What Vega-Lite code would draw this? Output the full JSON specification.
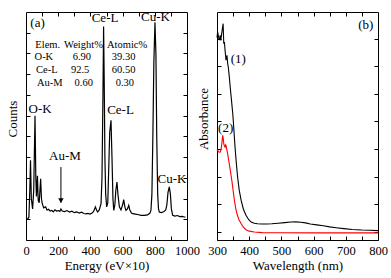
{
  "$schema": "https://vega.github.io/schema/vega-lite/v6.json",
  "padding": {"left": 6, "top": 10, "right": 0, "bottom": 0},
  "spacing": -3,
  "datasets": {
    "eds": [
      {"E": 8, "C": 10}, {"E": 18, "C": 11}, {"E": 24, "C": 25}, {"E": 28, "C": 38.5}, {"E": 33, "C": 20},
      {"E": 41, "C": 15}, {"E": 48, "C": 24}, {"E": 56, "C": 60}, {"E": 61, "C": 30}, {"E": 65, "C": 21},
      {"E": 71, "C": 31}, {"E": 76, "C": 19}, {"E": 82, "C": 18}, {"E": 91, "C": 29.5}, {"E": 96, "C": 20},
      {"E": 101, "C": 17.5}, {"E": 110, "C": 15.5}, {"E": 122, "C": 16}, {"E": 130, "C": 14.5}, {"E": 140, "C": 14.8},
      {"E": 150, "C": 14.0}, {"E": 160, "C": 14.3}, {"E": 170, "C": 13.6}, {"E": 180, "C": 14.6}, {"E": 190, "C": 14.0},
      {"E": 200, "C": 14.2}, {"E": 210, "C": 13.8}, {"E": 217, "C": 15.0}, {"E": 225, "C": 14.0}, {"E": 240, "C": 13.7},
      {"E": 255, "C": 14.2}, {"E": 270, "C": 13.5}, {"E": 285, "C": 13.9}, {"E": 300, "C": 13.2}, {"E": 315, "C": 13.6},
      {"E": 330, "C": 13.0}, {"E": 345, "C": 13.4}, {"E": 360, "C": 12.8}, {"E": 373, "C": 12.6}, {"E": 385, "C": 12.8},
      {"E": 398, "C": 12.5}, {"E": 410, "C": 13.0}, {"E": 420, "C": 13.8}, {"E": 431, "C": 16.0}, {"E": 438, "C": 14.5},
      {"E": 445, "C": 13.5}, {"E": 455, "C": 14.5}, {"E": 466, "C": 17.5}, {"E": 472, "C": 30}, {"E": 478, "C": 70},
      {"E": 482, "C": 103}, {"E": 486, "C": 75}, {"E": 490, "C": 40}, {"E": 495, "C": 22}, {"E": 501, "C": 16},
      {"E": 508, "C": 18}, {"E": 514, "C": 35}, {"E": 520, "C": 52}, {"E": 528, "C": 57.8}, {"E": 534, "C": 40},
      {"E": 540, "C": 20}, {"E": 545, "C": 14.3}, {"E": 552, "C": 17}, {"E": 558, "C": 24}, {"E": 565, "C": 28},
      {"E": 571, "C": 22}, {"E": 580, "C": 16}, {"E": 590, "C": 14.5}, {"E": 600, "C": 17}, {"E": 607, "C": 19.5},
      {"E": 614, "C": 16}, {"E": 621, "C": 14.3}, {"E": 630, "C": 15}, {"E": 638, "C": 16.7}, {"E": 645, "C": 14.5},
      {"E": 655, "C": 13}, {"E": 663, "C": 12.7}, {"E": 680, "C": 12.5}, {"E": 700, "C": 12.2}, {"E": 714, "C": 11.9},
      {"E": 735, "C": 11.9}, {"E": 755, "C": 12.1}, {"E": 770, "C": 13.0}, {"E": 776, "C": 14.3}, {"E": 782, "C": 22},
      {"E": 788, "C": 50}, {"E": 794, "C": 85}, {"E": 801, "C": 105}, {"E": 807, "C": 90}, {"E": 812, "C": 50},
      {"E": 818, "C": 22}, {"E": 823, "C": 15}, {"E": 828, "C": 13.5}, {"E": 840, "C": 13.2}, {"E": 855, "C": 13.6},
      {"E": 868, "C": 14.5}, {"E": 875, "C": 17}, {"E": 882, "C": 23}, {"E": 890, "C": 25.6}, {"E": 897, "C": 22},
      {"E": 903, "C": 15}, {"E": 911, "C": 11.9}, {"E": 925, "C": 11.5}, {"E": 940, "C": 11.8}, {"E": 955, "C": 11.3},
      {"E": 970, "C": 11.4}, {"E": 983, "C": 11.1}, {"E": 990, "C": 11.0}
    ],
    "labelsA": [
      {"text": "(a)", "E": 72, "C": 104.5},
      {"text": "O-K", "E": 88, "C": 63.2},
      {"text": "Ce-L", "E": 491, "C": 107.1},
      {"text": "Cu-K", "E": 804, "C": 107.6},
      {"text": "Ce-L", "E": 587, "C": 62.7},
      {"text": "Au-M", "E": 242, "C": 40.5},
      {"text": "Cu-K", "E": 907, "C": 29.4}
    ],
    "table": [
      {"text": "Elem.", "E": 135, "C": 94.2},
      {"text": "Weight%", "E": 357, "C": 94.2},
      {"text": "Atomic%", "E": 628, "C": 94.2},
      {"text": "O-K", "E": 111, "C": 88.3},
      {"text": "6.90", "E": 347, "C": 88.3},
      {"text": "39.30", "E": 606, "C": 88.3},
      {"text": "Ce-L", "E": 129, "C": 81.9},
      {"text": "92.5", "E": 336, "C": 81.9},
      {"text": "60.50", "E": 606, "C": 81.9},
      {"text": "Au-M", "E": 148, "C": 75.8},
      {"text": "0.60", "E": 359, "C": 75.8},
      {"text": "0.30", "E": 614, "C": 75.8}
    ],
    "arrow": [{"E": 217, "C": 35.2, "C2": 18}],
    "arrowhead": [{"E": 217, "C": 19}],
    "uv": [
      {"wl": 300, "A": 7.1, "s": "(1)"}, {"wl": 302, "A": 7.3, "s": "(1)"}, {"wl": 305, "A": 7.1, "s": "(1)"},
      {"wl": 307, "A": 7.01, "s": "(1)"}, {"wl": 310, "A": 7.18, "s": "(1)"}, {"wl": 312, "A": 7.0, "s": "(1)"},
      {"wl": 314, "A": 7.2, "s": "(1)"}, {"wl": 316, "A": 7.36, "s": "(1)"}, {"wl": 319, "A": 7.59, "s": "(1)"},
      {"wl": 321, "A": 6.89, "s": "(1)"}, {"wl": 323, "A": 6.95, "s": "(1)"}, {"wl": 325, "A": 6.66, "s": "(1)"},
      {"wl": 328, "A": 6.31, "s": "(1)"}, {"wl": 331, "A": 6.48, "s": "(1)"}, {"wl": 333, "A": 6.2, "s": "(1)"},
      {"wl": 335, "A": 6.07, "s": "(1)"}, {"wl": 338, "A": 5.75, "s": "(1)"}, {"wl": 341, "A": 5.37, "s": "(1)"},
      {"wl": 345, "A": 4.9, "s": "(1)"}, {"wl": 349, "A": 4.43, "s": "(1)"}, {"wl": 352, "A": 3.95, "s": "(1)"},
      {"wl": 356, "A": 3.26, "s": "(1)"}, {"wl": 360, "A": 2.7, "s": "(1)"}, {"wl": 364, "A": 2.21, "s": "(1)"},
      {"wl": 369, "A": 1.75, "s": "(1)"}, {"wl": 375, "A": 1.39, "s": "(1)"}, {"wl": 382, "A": 1.08, "s": "(1)"},
      {"wl": 390, "A": 0.87, "s": "(1)"}, {"wl": 398, "A": 0.72, "s": "(1)"}, {"wl": 406, "A": 0.63, "s": "(1)"},
      {"wl": 416, "A": 0.59, "s": "(1)"}, {"wl": 426, "A": 0.57, "s": "(1)"}, {"wl": 440, "A": 0.56, "s": "(1)"},
      {"wl": 455, "A": 0.56, "s": "(1)"}, {"wl": 470, "A": 0.57, "s": "(1)"}, {"wl": 490, "A": 0.59, "s": "(1)"},
      {"wl": 510, "A": 0.61, "s": "(1)"}, {"wl": 530, "A": 0.63, "s": "(1)"}, {"wl": 545, "A": 0.635, "s": "(1)"},
      {"wl": 560, "A": 0.625, "s": "(1)"}, {"wl": 575, "A": 0.6, "s": "(1)"}, {"wl": 590, "A": 0.56, "s": "(1)"},
      {"wl": 610, "A": 0.53, "s": "(1)"}, {"wl": 630, "A": 0.5, "s": "(1)"}, {"wl": 650, "A": 0.46, "s": "(1)"},
      {"wl": 670, "A": 0.43, "s": "(1)"}, {"wl": 694, "A": 0.4, "s": "(1)"}, {"wl": 720, "A": 0.37, "s": "(1)"},
      {"wl": 750, "A": 0.35, "s": "(1)"}, {"wl": 775, "A": 0.34, "s": "(1)"}, {"wl": 800, "A": 0.33, "s": "(1)"},
      {"wl": 300, "A": 3.12, "s": "(2)"}, {"wl": 302, "A": 3.15, "s": "(2)"}, {"wl": 306, "A": 3.08, "s": "(2)"},
      {"wl": 310, "A": 3.09, "s": "(2)"}, {"wl": 313, "A": 3.2, "s": "(2)"}, {"wl": 315, "A": 3.38, "s": "(2)"},
      {"wl": 317, "A": 3.6, "s": "(2)"}, {"wl": 318, "A": 3.67, "s": "(2)"}, {"wl": 319.5, "A": 3.55, "s": "(2)"},
      {"wl": 321, "A": 3.38, "s": "(2)"}, {"wl": 323, "A": 3.3, "s": "(2)"}, {"wl": 325, "A": 3.26, "s": "(2)"},
      {"wl": 327, "A": 3.34, "s": "(2)"}, {"wl": 328, "A": 3.32, "s": "(2)"}, {"wl": 330, "A": 3.2, "s": "(2)"},
      {"wl": 333, "A": 3.03, "s": "(2)"}, {"wl": 338, "A": 2.68, "s": "(2)"}, {"wl": 342, "A": 2.4, "s": "(2)"},
      {"wl": 346, "A": 2.09, "s": "(2)"}, {"wl": 350, "A": 1.75, "s": "(2)"}, {"wl": 354, "A": 1.39, "s": "(2)"},
      {"wl": 358, "A": 1.12, "s": "(2)"}, {"wl": 362, "A": 0.92, "s": "(2)"}, {"wl": 368, "A": 0.72, "s": "(2)"},
      {"wl": 375, "A": 0.57, "s": "(2)"}, {"wl": 382, "A": 0.45, "s": "(2)"}, {"wl": 390, "A": 0.36, "s": "(2)"},
      {"wl": 400, "A": 0.31, "s": "(2)"}, {"wl": 416, "A": 0.28, "s": "(2)"}, {"wl": 440, "A": 0.26, "s": "(2)"},
      {"wl": 500, "A": 0.255, "s": "(2)"}, {"wl": 600, "A": 0.25, "s": "(2)"}, {"wl": 700, "A": 0.25, "s": "(2)"},
      {"wl": 800, "A": 0.25, "s": "(2)"}
    ],
    "labelsB": [
      {"text": "(b)", "wl": 762, "A": 7.56},
      {"text": "(1)", "wl": 366, "A": 6.36},
      {"text": "(2)", "wl": 327, "A": 3.94}
    ]
  },
  "hconcat": [
    {
      "width": 161,
      "height": 228,
      "layer": [
        {
          "data": {"name": "eds"},
          "mark": {"type": "line", "color": "black", "strokeWidth": 1.2},
          "encoding": {
            "x": {"field": "E", "type": "quantitative", "scale": {"domain": [0, 1000], "nice": false},
              "axis": {"orient": "bottom", "title": "Energy (eV×10)", "format": "d", "values": [0, 100, 200, 300, 400, 500, 600, 700, 800, 900, 1000],
                "labelExpr": "datum.value % 200 === 0 ? datum.label : ''"}},
            "y": {"field": "C", "type": "quantitative", "scale": {"domain": [0, 110], "nice": false},
              "axis": {"orient": "left", "title": "Counts", "labels": false, "values": [10, 20, 30, 40, 50, 60, 70, 80, 90, 100], "titleY": 106.5}}
          }
        },
        {
          "data": {"name": "labelsA"},
          "mark": {"type": "text", "font": "Liberation Serif, serif", "fontSize": 13, "align": "center", "baseline": "middle", "color": "black"},
          "encoding": {
            "x": {"field": "E", "type": "quantitative", "axis": {"orient": "top", "labels": false, "title": null, "values": [100, 200, 300, 400, 500, 600, 700, 800, 900]}},
            "y": {"field": "C", "type": "quantitative", "axis": {"orient": "right", "labels": false, "title": null, "values": [10, 20, 30, 40, 50, 60, 70, 80, 90, 100]}},
            "text": {"field": "text"}
          }
        },
        {
          "data": {"name": "table"},
          "mark": {"type": "text", "font": "Liberation Serif, serif", "fontSize": 10.5, "align": "center", "baseline": "middle", "color": "black"},
          "encoding": {
            "x": {"field": "E", "type": "quantitative", "axis": null},
            "y": {"field": "C", "type": "quantitative", "axis": null},
            "text": {"field": "text"}
          }
        },
        {
          "data": {"name": "arrow"},
          "mark": {"type": "rule", "color": "black", "strokeWidth": 1},
          "encoding": {
            "x": {"field": "E", "type": "quantitative", "axis": null},
            "y": {"field": "C", "type": "quantitative", "axis": null},
            "y2": {"field": "C2"}
          }
        },
        {
          "data": {"name": "arrowhead"},
          "mark": {"type": "point", "shape": "triangle-down", "filled": true, "color": "black", "size": 30, "opacity": 1},
          "encoding": {
            "x": {"field": "E", "type": "quantitative", "axis": null},
            "y": {"field": "C", "type": "quantitative", "axis": null}
          }
        }
      ],
      "resolve": {"axis": {"x": "independent", "y": "independent"}}
    },
    {
      "width": 161,
      "height": 228,
      "layer": [
        {
          "data": {"name": "uv"},
          "mark": {"type": "line", "strokeWidth": 1.1},
          "encoding": {
            "x": {"field": "wl", "type": "quantitative", "scale": {"domain": [300, 800], "nice": false},
              "axis": {"orient": "bottom", "title": "Wavelength (nm)", "format": "d", "values": [300, 350, 400, 450, 500, 550, 600, 650, 700, 750, 800],
                "labelExpr": "datum.value % 100 === 0 ? datum.label : ''"}},
            "y": {"field": "A", "type": "quantitative", "scale": {"domain": [0, 8], "nice": false},
              "axis": {"orient": "left", "title": "Absorbance", "labels": false, "values": [0.28, 1.25, 2.22, 3.19, 4.16, 5.13, 6.1, 7.07], "titleY": 106.5}},
            "color": {"field": "s", "type": "nominal", "scale": {"domain": ["(1)", "(2)"], "range": ["black", "#ff0000"]}, "legend": null}
          }
        },
        {
          "data": {"name": "labelsB"},
          "mark": {"type": "text", "font": "Liberation Serif, serif", "fontSize": 13, "align": "center", "baseline": "middle", "color": "black"},
          "encoding": {
            "x": {"field": "wl", "type": "quantitative", "axis": {"orient": "top", "labels": false, "title": null, "values": [350, 400, 450, 500, 550, 600, 650, 700, 750]}},
            "y": {"field": "A", "type": "quantitative", "axis": {"orient": "right", "labels": false, "title": null, "values": [0.28, 1.25, 2.22, 3.19, 4.16, 5.13, 6.1, 7.07]}},
            "text": {"field": "text"}
          }
        }
      ],
      "resolve": {"axis": {"x": "independent", "y": "independent"}}
    }
  ],
  "config": {
    "view": {"stroke": "black", "strokeWidth": 1},
    "axis": {
      "grid": false, "domain": false, "ticks": true, "tickColor": "black", "tickSize": -4, "tickWidth": 1,
      "labelFont": "Liberation Serif, serif", "labelFontSize": 12.5, "labelColor": "black", "labelPadding": 8, "labelFlush": false,
      "labelOverlap": false,
      "titleFont": "Liberation Serif, serif", "titleFontSize": 13, "titleFontWeight": "normal", "titleColor": "black", "titlePadding": 3
    },
    "axisY": {"titlePadding": 6}
  }
}
